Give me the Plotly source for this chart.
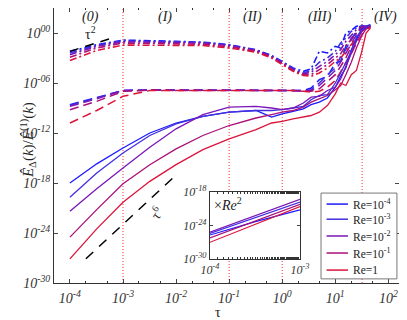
import numpy as np
import plotly.graph_objects as go

# time grid (tau) shared by all main curves
tau = [1e-4, 3.2e-4, 1e-3, 3.2e-3, 1e-2, 3.2e-2, 0.1, 0.32, 0.63, 1.0, 1.6, 2.5,
       3.5, 5.0, 7.1, 10.0, 12.6, 15.8, 20.0, 25.0, 31.6, 38.0, 46.0]

re_names = ["Re=10<sup>-4</sup>", "Re=10<sup>-3</sup>", "Re=10<sup>-2</sup>",
            "Re=10<sup>-1</sup>", "Re=1"]
re_colors = ["#1a1aff", "#4330e0", "#7a16b8", "#a8107a", "#dc143c"]

# log10 of the ratio, solid curves
solid_re4 = [-18.0, -15.7, -13.8, -12.0, -10.8, -10.0, -9.5, -9.3, -10.1, -9.7, -9.4, -9.1,
             -8.6, -8.3, -7.8, -6.5, -5.2, -4.2, -2.0, -0.8, 0.5, 0.6, 0.8]
solid_re3 = [-19.7, -16.8, -14.4, -12.3, -10.9, -10.0, -9.5, -9.3, -9.3, -9.2, -9.0, -8.8,
             -8.0, -7.5, -7.4, -6.0, -4.8, -3.5, -2.2, -0.5, 0.4, 0.7, 0.8]
solid_re2 = [-21.4, -18.7, -16.2, -13.7, -11.5, -9.8, -8.9, -8.8, -9.0, -9.2, -9.0, -8.4,
             -7.7, -7.6, -6.9, -6.5, -5.5, -4.0, -2.6, -1.0, 0.2, 0.6, 0.8]
solid_re1 = [-24.5, -21.2, -18.1, -15.8, -13.9, -12.3, -11.1, -10.2, -9.8, -9.5, -9.3, -8.9,
             -8.3, -7.9, -7.5, -6.8, -6.3, -5.0, -3.5, -1.8, -0.3, 0.5, 0.7]
solid_re0 = [-27.1, -23.5, -20.3, -17.8, -15.8, -14.0, -12.7, -11.6, -10.8, -10.6, -10.3, -10.1,
             -9.9, -9.5, -8.7, -7.3, -6.0, -6.3, -5.0, -4.5, -2.2, 0.0, 0.6]

# dashed curves (middle family)
dash_re4 = [-8.6, -7.7, -6.9, -6.85, -6.85, -6.85, -6.85, -6.85, -6.85, -6.85, -6.9, -6.9,
            -6.6, -5.6, -5.2, -3.6, -3.4, -1.6, -0.8, 0.2, 0.7, 0.8, 0.9]
dash_re3 = [-8.7, -7.8, -6.9, -6.85, -6.85, -6.85, -6.85, -6.85, -6.85, -6.85, -6.9, -7.0,
            -6.8, -6.0, -5.0, -4.2, -2.8, -2.0, -0.6, 0.0, 0.6, 0.8, 0.9]
dash_re2 = [-8.8, -7.9, -6.9, -6.85, -6.85, -6.85, -6.85, -6.85, -6.85, -6.85, -6.9, -6.9,
            -6.9, -6.3, -5.4, -4.5, -3.5, -2.4, -1.2, -0.2, 0.5, 0.7, 0.8]
dash_re1 = [-9.2, -8.2, -7.0, -6.85, -6.9, -6.9, -6.9, -6.9, -6.9, -6.9, -6.9, -7.0,
            -7.0, -6.7, -5.8, -5.0, -4.0, -3.0, -1.6, -0.8, 0.3, 0.6, 0.8]
dash_re0 = [-10.8, -9.3, -7.6, -6.9, -6.9, -6.9, -6.9, -6.9, -6.9, -6.9, -6.9, -7.0,
            -7.1, -7.0, -6.5, -5.7, -4.6, -3.6, -2.5, -1.2, -0.2, 0.5, 0.7]

# dash-dot curves (top family)
dd_re4 = [-2.2, -1.4, -0.85, -0.9, -1.0, -1.1, -1.4, -2.0, -2.7, -3.4, -4.2, -4.6,
          -4.3, -2.2, -2.4, -1.6, -1.8, 0.0, 0.3, 0.8, 0.9, 0.8, 1.0]
dd_re3 = [-2.4, -1.5, -0.95, -1.0, -1.05, -1.15, -1.45, -2.05, -2.75, -3.5, -4.3, -4.8,
          -4.5, -3.5, -3.0, -2.2, -1.2, -0.6, 0.2, 0.6, 0.9, 0.8, 0.9]
dd_re2 = [-2.6, -1.6, -1.05, -1.1, -1.1, -1.2, -1.5, -2.1, -2.8, -3.6, -4.4, -4.9,
          -4.7, -4.0, -3.4, -2.6, -2.0, -1.0, -0.3, 0.4, 0.8, 0.8, 0.9]
dd_re1 = [-2.9, -1.8, -1.2, -1.25, -1.3, -1.35, -1.65, -2.2, -2.9, -3.7, -4.5, -5.0,
          -5.0, -4.4, -3.8, -3.0, -2.5, -1.5, -0.8, 0.0, 0.6, 0.7, 0.8]
dd_re0 = [-3.3, -2.1, -1.45, -1.45, -1.45, -1.5, -1.8, -2.3, -3.0, -3.8, -4.6, -5.1,
          -5.2, -4.8, -4.2, -3.4, -3.0, -2.2, -1.3, -0.6, 0.2, 0.6, 0.7]

solid = [solid_re4, solid_re3, solid_re2, solid_re1, solid_re0]
dashed = [dash_re4, dash_re3, dash_re2, dash_re1, dash_re0]
dashdot = [dd_re4, dd_re3, dd_re2, dd_re1, dd_re0]

# reference slopes
tau2_x = [1e-4, 7e-4]
tau2_y = [6.3e-3, 3.2e-1]
tau6_x = [2e-4, 8.7e-3]
tau6_y = [8e-28, 4e-18]

# inset: solid curves scaled by Re^2
inset_tau = [1e-4, 3.2e-4, 1e-3]
inset_re4 = [-25.7, -23.3, -21.2]
inset_re3 = [-25.4, -22.5, -19.8]
inset_re2 = [-25.2, -22.2, -19.3]
inset_re1 = [-26.2, -23.1, -20.2]
inset_re0 = [-27.0, -23.7, -20.6]
inset = [inset_re4, inset_re3, inset_re2, inset_re1, inset_re0]

region_tau = [2.4e-4, 6.3e-3, 0.27, 5.2, 89]
region_txt = ["(0)", "(I)", "(II)", "(III)", "(IV)"]
vlines = [1e-3, 0.1, 1.0, 32]

SERIF = "Liberation Serif"
fig = go.Figure()

for xv in vlines:
    fig.add_trace(go.Scatter(x=[xv, xv], y=[1e-30, 1e3], mode="lines", showlegend=False,
                             line=dict(color="#ff4040", width=1.1, dash="1px,2px"), hoverinfo="skip"))

for i in range(5):
    fig.add_trace(go.Scatter(x=tau, y=np.power(10.0, dashdot[i]), mode="lines", showlegend=False,
                             line=dict(color=re_colors[i], width=1.6, dash="7px,3px,2px,3px")))
    fig.add_trace(go.Scatter(x=tau, y=np.power(10.0, dashed[i]), mode="lines", showlegend=False,
                             line=dict(color=re_colors[i], width=1.5, dash="9px,5px")))
for i in range(5):
    fig.add_trace(go.Scatter(x=tau, y=np.power(10.0, solid[i]), mode="lines", name=re_names[i],
                             showlegend=False, line=dict(color=re_colors[i], width=1.3)))

fig.add_trace(go.Scatter(x=tau2_x, y=tau2_y, mode="lines", showlegend=False,
                         line=dict(color="black", width=1.5, dash="9px,7px")))
fig.add_trace(go.Scatter(x=tau6_x, y=tau6_y, mode="lines", showlegend=False,
                         line=dict(color="black", width=1.5, dash="10px,8px")))

for i in range(5):
    fig.add_trace(go.Scatter(x=inset_tau, y=np.power(10.0, inset[i]), mode="lines", showlegend=False,
                             line=dict(color=re_colors[i], width=1.2), xaxis="x2", yaxis="y2"))

tickfont = dict(family=SERIF, size=14, color="#333", style="italic")
smallfont = dict(family=SERIF, size=12, color="#333", style="italic")
# page body adds an 8px offset, so the figure is sized to fit inside the window
fig.update_layout(
    width=399, height=312,
    margin=dict(l=46, r=8, t=0, b=37),
    paper_bgcolor="white", plot_bgcolor="white",
    font=dict(family=SERIF, color="#222"),
    showlegend=False,
    xaxis=dict(type="log", range=[-4.3, 2.2], tickvals=[1e-4, 1e-3, 1e-2, 1e-1, 1, 10, 100],
               ticktext=["10<sup>-4</sup>", "10<sup>-3</sup>", "10<sup>-2</sup>", "10<sup>-1</sup>",
                         "10<sup>0</sup>", "10<sup>1</sup>", "10<sup>2</sup>"],
               ticks="inside", ticklen=4, mirror="ticks", showline=True, linecolor="#333",
               showgrid=False, zeroline=False, tickfont=tickfont, automargin=False,
               ticklabelstandoff=2,
               minor=dict(ticks="inside", ticklen=2, tickcolor="#333")),
    yaxis=dict(type="log", range=[-30, 3],
               tickvals=[1e-30, 1e-24, 1e-18, 1e-12, 1e-6, 1, 1e3],
               ticktext=["10<sup>-30</sup>", "10<sup>-24</sup>", "10<sup>-18</sup>", "10<sup>-12</sup>",
                         "10<sup>-06</sup>", "10<sup>00</sup>", "10<sup>03</sup>"],
               ticks="inside", ticklen=4, mirror="ticks", showline=True, linecolor="#333",
               showgrid=False, zeroline=False, tickfont=tickfont, automargin=False),
    xaxis2=dict(type="log", range=[-4, -3], domain=[0.452, 0.713], anchor="y2",
                tickvals=[1e-4, 1e-3], ticktext=["10<sup>-4</sup>", "10<sup>-3</sup>"],
                ticks="inside", ticklen=3, mirror="ticks", showline=True, linecolor="#333",
                showgrid=False, tickfont=smallfont, automargin=False,
                minor=dict(ticks="inside", ticklen=2, tickcolor="#333")),
    yaxis2=dict(type="log", range=[-30, -18], domain=[0.087, 0.331], anchor="x2",
                tickvals=[1e-30, 1e-24, 1e-18],
                ticktext=["10<sup>-30</sup>", "10<sup>-24</sup>", "10<sup>-18</sup>"],
                ticks="inside", ticklen=3, mirror="ticks", showline=True, linecolor="#333",
                showgrid=False, tickfont=smallfont, automargin=False),
)

# legend box drawn by hand so its size matches
fig.add_shape(type="rect", xref="paper", yref="paper", x0=0.774, x1=0.994, y0=0.015, y1=0.327,
              fillcolor="white", line=dict(color="#777", width=1), layer="above")
row_y = [0.287, 0.232, 0.171, 0.109, 0.047]
for i in range(5):
    fig.add_shape(type="line", xref="paper", yref="paper", x0=0.79, x1=0.852, y0=row_y[i], y1=row_y[i],
                  line=dict(color=re_colors[i], width=1.5), layer="above")
    fig.add_annotation(x=0.862, y=row_y[i], xref="paper", yref="paper", xanchor="left",
                       yanchor="middle", text=re_names[i], showarrow=False,
                       font=dict(family=SERIF, size=11.5, color="#222"))

for xv, txt in zip(region_tau, region_txt):
    fig.add_annotation(x=np.log10(xv), y=1.9, text=txt, showarrow=False,
                       font=dict(family=SERIF, size=14, style="italic", color="#222"))
fig.add_annotation(x=np.log10(2.4e-4), y=0.0, text="τ<sup>2</sup>", showarrow=False,
                   font=dict(family=SERIF, size=14, color="#222"))
fig.add_annotation(x=np.log10(4.2e-3), y=-21.6, text="τ<sup>6</sup>", showarrow=False, textangle=-55,
                   font=dict(family=SERIF, size=14, color="#222"))
fig.add_annotation(x=0.02, y=0.99, xref="x2 domain", yref="y2 domain", xanchor="left", yanchor="top",
                   text="×<i>Re</i><sup>2</sup>", showarrow=False,
                   font=dict(family=SERIF, size=14, color="#222"))
# axis titles
fig.add_annotation(x=0.474, y=-0.108, xref="paper", yref="paper", yanchor="middle", showarrow=False,
                   text="τ", font=dict(family=SERIF, size=14, color="#222"))
fig.add_annotation(x=-0.11, y=0.52, xref="paper", yref="paper", textangle=-90, showarrow=False,
                   text="<i>Ê</i><sub>Δ</sub>(<i>k</i>)/<i>Ê</i><sup>(1)</sup>(<i>k</i>)",
                   font=dict(family=SERIF, size=15, color="#222"))

fig.write_html("out.html")
